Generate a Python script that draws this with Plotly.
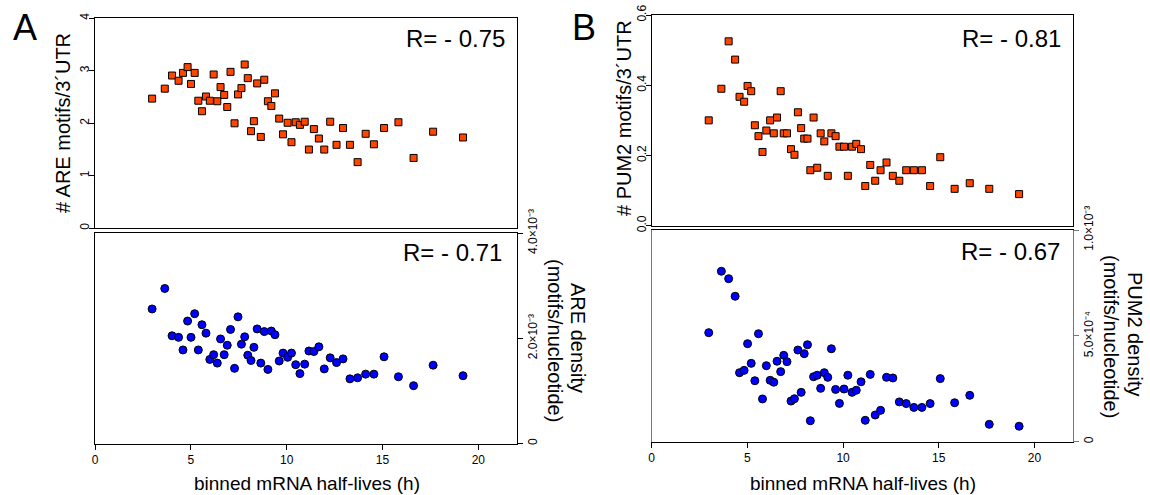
import plotly.graph_objects as go

# binned mRNA half-lives (h) - shared bins
half_life = [2.98, 3.64, 4.02, 4.36, 4.59, 4.83, 5.01, 5.20, 5.39, 5.58,
             5.79, 5.99, 6.19, 6.38, 6.55, 6.74, 6.90, 7.07, 7.28, 7.46,
             7.64, 7.81, 7.97, 8.14, 8.29, 8.46, 8.65, 8.83, 9.02, 9.20,
             9.39, 9.61, 9.81, 10.05, 10.25, 10.47, 10.69, 10.94, 11.16, 11.42,
             11.68, 11.96, 12.27, 12.60, 12.94, 13.30, 13.70, 14.12, 14.55, 15.08,
             15.83, 16.62, 17.64, 19.20]

are_motifs = [2.47, 2.66, 2.91, 2.81, 2.96, 3.07, 2.75, 2.96, 2.43, 2.23,
              2.51, 2.43, 2.93, 2.42, 2.69, 2.54, 2.31, 2.98, 2.00, 2.55,
              2.67, 3.12, 2.86, 1.85, 2.04, 2.76, 1.74, 2.83, 2.42, 2.33,
              2.57, 2.09, 1.79, 2.01, 1.64, 2.02, 1.97, 2.03, 1.50, 1.89,
              1.71, 1.50, 2.03, 1.59, 1.91, 1.59, 1.26, 1.80, 1.60, 1.91,
              2.02, 1.34, 1.84, 1.73]

are_density = [2.56e-3, 2.95e-3, 2.05e-3, 2.02e-3, 1.78e-3, 2.33e-3, 2.02e-3, 2.47e-3, 1.78e-3, 2.26e-3,
               2.10e-3, 1.60e-3, 1.69e-3, 1.53e-3, 1.99e-3, 1.69e-3, 1.87e-3, 2.17e-3, 1.43e-3, 2.41e-3,
               1.89e-3, 2.03e-3, 1.68e-3, 1.58e-3, 1.83e-3, 2.18e-3, 1.53e-3, 2.13e-3, 1.41e-3, 2.14e-3,
               2.07e-3, 1.57e-3, 1.72e-3, 1.64e-3, 1.72e-3, 1.50e-3, 1.33e-3, 1.51e-3, 1.76e-3, 1.75e-3,
               1.84e-3, 1.42e-3, 1.63e-3, 1.54e-3, 1.61e-3, 1.23e-3, 1.25e-3, 1.32e-3, 1.32e-3, 1.65e-3,
               1.27e-3, 1.10e-3, 1.49e-3, 1.29e-3]

pum2_motifs = [0.300, 0.390, 0.525, 0.473, 0.367, 0.353, 0.398, 0.383, 0.286, 0.255,
               0.210, 0.271, 0.300, 0.263, 0.308, 0.383, 0.263, 0.263, 0.218, 0.202,
               0.323, 0.278, 0.248, 0.248, 0.158, 0.308, 0.165, 0.263, 0.240, 0.142,
               0.263, 0.255, 0.225, 0.225, 0.142, 0.225, 0.233, 0.218, 0.113, 0.173,
               0.128, 0.158, 0.180, 0.142, 0.128, 0.158, 0.158, 0.158, 0.113, 0.195,
               0.105, 0.121, 0.105, 0.090]

pum2_density = [0.515e-3, 0.805e-3, 0.770e-3, 0.687e-3, 0.326e-3, 0.337e-3, 0.463e-3, 0.370e-3, 0.288e-3, 0.510e-3,
                0.202e-3, 0.359e-3, 0.290e-3, 0.281e-3, 0.380e-3, 0.331e-3, 0.408e-3, 0.378e-3, 0.192e-3, 0.203e-3,
                0.433e-3, 0.233e-3, 0.416e-3, 0.458e-3, 0.099e-3, 0.307e-3, 0.314e-3, 0.252e-3, 0.326e-3, 0.304e-3,
                0.439e-3, 0.247e-3, 0.181e-3, 0.249e-3, 0.314e-3, 0.233e-3, 0.243e-3, 0.283e-3, 0.101e-3, 0.318e-3,
                0.126e-3, 0.148e-3, 0.304e-3, 0.301e-3, 0.188e-3, 0.180e-3, 0.162e-3, 0.162e-3, 0.180e-3, 0.298e-3,
                0.184e-3, 0.219e-3, 0.082e-3, 0.073e-3]

x_ticks = [0, 5, 10, 15, 20]
are_motif_ticks = [0, 1, 2, 3, 4]
pum2_motif_ticks = [0.0, 0.2, 0.4, 0.6]
pum2_motif_ticktext = ["0.0", "0.2", "0.4", "0.6"]
are_density_ticks = [0, 2e-3, 4e-3]
are_density_ticktext = ["0", "2.0×10⁻³", "4.0×10⁻³"]
pum2_density_ticks = [0, 5e-4, 1e-3]
pum2_density_ticktext = ["0", "5.0×10⁻⁴", "1.0×10⁻³"]

W, H = 1150, 495
FONT = "Liberation Sans, Arial, sans-serif"
ORANGE = "#FF4500"
BLUE = "#0000FF"


def px_x(p):
    return p / W


def px_y(p):
    return 1 - p / H


fig = go.Figure()

sq = dict(symbol="square", size=7, color=ORANGE, line=dict(color="black", width=1))
ci = dict(symbol="circle", size=8, color=BLUE, line=dict(color="black", width=1))

fig.add_trace(go.Scatter(x=half_life, y=are_motifs, mode="markers", marker=sq,
                         xaxis="x", yaxis="y", showlegend=False))
fig.add_trace(go.Scatter(x=half_life, y=are_density, mode="markers", marker=ci,
                         xaxis="x2", yaxis="y2", showlegend=False))
fig.add_trace(go.Scatter(x=half_life, y=pum2_motifs, mode="markers", marker=sq,
                         xaxis="x3", yaxis="y3", showlegend=False))
fig.add_trace(go.Scatter(x=half_life, y=pum2_density, mode="markers", marker=ci,
                         xaxis="x4", yaxis="y4", showlegend=False))

domA = [px_x(95), px_x(516.7)]
domB = [px_x(651.7), px_x(1072.7)]
tickfont = dict(family=FONT, size=12, color="black")
rtickfont = dict(family=FONT, size=12, color="black")

top_x = dict(range=[0, 22], showline=True, mirror=True, linecolor="black", linewidth=1,
             ticks="", showticklabels=False, showgrid=False, zeroline=False, automargin=False)
bot_x = dict(range=[0, 22], showline=True, mirror=True, linecolor="black", linewidth=1,
             ticks="outside", ticklen=5, tickcolor="black", tickvals=x_ticks,
             tickfont=tickfont, showgrid=False, zeroline=False, automargin=False)

fig.update_layout(
    width=W, height=H, margin=dict(l=0, r=0, t=0, b=0, autoexpand=False),
    paper_bgcolor="white", plot_bgcolor="white",
    font=dict(family=FONT, color="black"),
    xaxis=dict(domain=domA, anchor="y", **top_x),
    yaxis=dict(domain=[px_y(228.3), px_y(18.3)], anchor="x", range=[0, 4],
               tickvals=are_motif_ticks, tickangle=-90, ticks="outside", ticklen=5,
               tickcolor="black", tickfont=tickfont, showline=True, mirror=True,
               linecolor="black", showgrid=False, zeroline=False, automargin=False,
               ticklabelstandoff=-5),
    xaxis2=dict(domain=domA, anchor="y2", **bot_x),
    yaxis2=dict(domain=[px_y(443.5), px_y(233.3)], anchor="x2", side="right", range=[0, 4e-3],
                tickvals=are_density_ticks, ticktext=are_density_ticktext, tickangle=-90,
                ticks="outside", ticklen=5, tickcolor="black", tickfont=rtickfont,
                showline=True, mirror=True, linecolor="black", showgrid=False, zeroline=False,
                automargin=False),
    xaxis3=dict(domain=domB, anchor="y3", **top_x),
    yaxis3=dict(domain=[px_y(225.7), px_y(15)], anchor="x3", range=[0, 0.6],
                tickvals=pum2_motif_ticks, ticktext=pum2_motif_ticktext, tickangle=-90,
                ticks="outside", ticklen=5, tickcolor="black", tickfont=tickfont,
                showline=True, mirror=True, linecolor="black", showgrid=False, zeroline=False,
                automargin=False, ticklabelstandoff=-5),
    xaxis4=dict(domain=domB, anchor="y4", **bot_x),
    yaxis4=dict(domain=[px_y(441.7), px_y(230)], anchor="x4", side="right", range=[0, 1e-3],
                tickvals=pum2_density_ticks, ticktext=pum2_density_ticktext, tickangle=-90,
                ticks="outside", ticklen=5, tickcolor="#777777", tickfont=rtickfont,
                showline=True, mirror=True, linecolor="#777777", showgrid=False, zeroline=False,
                automargin=False),
)

ann = []


def add_text(text, x, y, size, angle=0, xanchor="center", yanchor="middle"):
    ann.append(dict(text=text, x=px_x(x), y=px_y(y), xref="paper", yref="paper",
                    showarrow=False, textangle=angle, xanchor=xanchor, yanchor=yanchor,
                    font=dict(family=FONT, size=size, color="black")))


# panel letters
add_text("A", 25, 27, 36)
add_text("B", 584, 27, 36)
# correlation labels
add_text("R= - 0.75", 507, 38, 24, xanchor="right")
add_text("R= - 0.71", 504, 253, 24, xanchor="right")
add_text("R= - 0.81", 1063, 38, 24, xanchor="right")
add_text("R= - 0.67", 1062, 252, 24, xanchor="right")
# left axis titles
add_text("# ARE motifs/3´UTR", 63, 123, 20, angle=-90)
add_text("# PUM2 motifs/3´UTR", 624, 118, 20, angle=-90)
# right axis titles
add_text("ARE density", 578, 338, 20, angle=90)
add_text("(motifs/nucleotide)", 555, 340, 20, angle=90)
add_text("PUM2 density", 1135, 334, 20, angle=90)
add_text("(motifs/nucleotide)", 1111, 336, 20, angle=90)
# x axis titles
add_text("binned mRNA half-lives (h)", 307, 483, 19)
add_text("binned mRNA half-lives (h)", 863, 483, 19)

fig.update_layout(annotations=ann)

fig.write_html("out.html")
